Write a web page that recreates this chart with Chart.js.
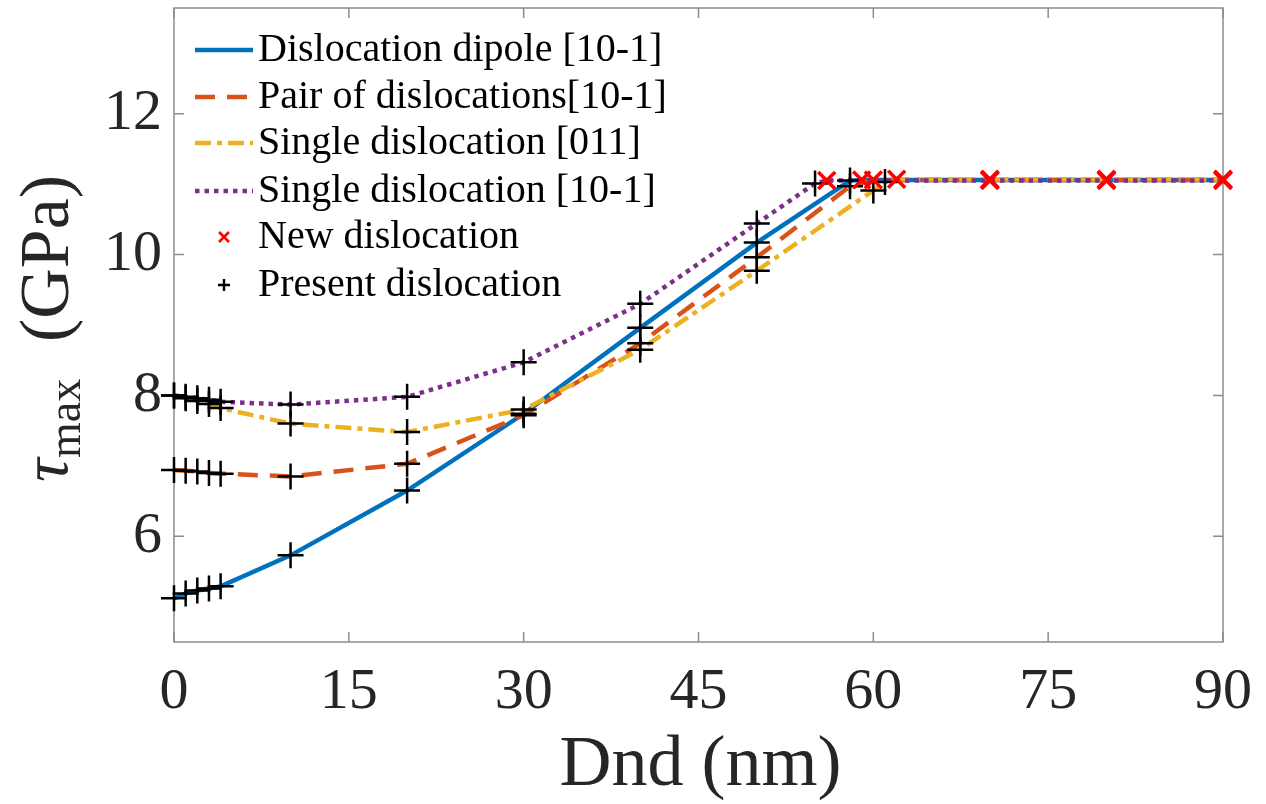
<!DOCTYPE html>
<html>
<head>
<meta charset="utf-8">
<title>tau max vs Dnd</title>
<script src="https://cdn.jsdelivr.net/npm/chart.js@4.4.1/dist/chart.umd.min.js"></script>
<style>
  body { margin: 0; background: #fff; }
</style>
</head>
<body>
<canvas id="chart" width="1266" height="804"></canvas>
<script>
// --- Data ---
const xTicks = [0, 15, 30, 45, 60, 75, 90];
const yTicks = [6, 8, 10, 12];

const dipoleX = [0, 1, 2, 3, 4, 10, 20, 30, 40, 50, 58, 59, 70, 80, 90];
const dipoleY = [5.12, 5.19, 5.23, 5.26, 5.29, 5.73, 6.65, 7.74, 8.96, 10.17, 11.05, 11.06, 11.06, 11.06, 11.06];

const pairX = [0, 1, 2, 3, 4, 10, 20, 30, 40, 50, 58, 60, 70, 80, 90];
const pairY = [6.94, 6.93, 6.92, 6.9, 6.89, 6.85, 7.03, 7.72, 8.74, 9.96, 10.97, 11.06, 11.06, 11.06, 11.06];

const single011X = [0, 1, 2, 3, 4, 10, 20, 30, 40, 50, 60, 61, 62, 70, 80, 90];
const single011Y = [8.0, 7.96, 7.92, 7.88, 7.82, 7.6, 7.48, 7.8, 8.65, 9.77, 10.91, 11.03, 11.07, 11.07, 11.07, 11.07];

const single101X = [0, 1, 2, 3, 4, 10, 20, 30, 40, 50, 55, 56, 70, 80, 90];
const single101Y = [8.0, 7.98, 7.96, 7.94, 7.91, 7.87, 7.98, 8.47, 9.3, 10.44, 11.01, 11.05, 11.05, 11.05, 11.05];

// first distance at which a new dislocation appears, per series
const firstNewX = { dipole: 59, pair: 60, single011: 62, single101: 56 };

const legendLabels = [
  "Dislocation dipole [10-1]",
  "Pair of dislocations[10-1]",
  "Single dislocation [011]",
  "Single dislocation [10-1]",
  "New dislocation",
  "Present dislocation"
];

// --- Styling ---
const FONT = '"Liberation Serif", "Times New Roman", serif';
const series = [
  { key: "dipole", xs: dipoleX, ys: dipoleY, color: "#0072BD", dash: [] },
  { key: "pair", xs: pairX, ys: pairY, color: "#D95319", dash: [20, 12] },
  { key: "single011", xs: single011X, ys: single011Y, color: "#EDB120", dash: [16, 6, 5, 6] },
  { key: "single101", xs: single101X, ys: single101Y, color: "#7E2F8E", dash: [4.5, 5] }
];

const toPoints = (xs, ys) => xs.map((x, i) => ({ x: x, y: ys[i] }));

const datasets = [];
series.forEach((s, i) => {
  datasets.push({
    type: "line",
    data: toPoints(s.xs, s.ys),
    borderColor: s.color,
    borderWidth: 4.5,
    borderDash: s.dash,
    borderCapStyle: "butt",
    pointRadius: 0,
    tension: 0,
    fill: false,
    order: 5 - i
  });
});

const presentPts = [];
const newPts = [];
series.forEach(s => {
  s.xs.forEach((x, i) => {
    if (x < firstNewX[s.key]) presentPts.push({ x: x, y: s.ys[i] });
    else newPts.push({ x: x, y: s.ys[i] });
  });
});

datasets.push({
  type: "scatter",
  data: presentPts,
  pointStyle: "cross",
  pointRadius: 13,
  borderColor: "#000",
  borderWidth: 2.5,
  clip: false,
  order: 1
});
datasets.push({
  type: "scatter",
  data: newPts,
  pointStyle: "crossRot",
  pointRadius: 12,
  borderColor: "#ff0000",
  borderWidth: 3.5,
  clip: false,
  order: 0
});

// --- Box and inward ticks (under the data) ---
const boxPlugin = {
  id: "box",
  beforeDatasetsDraw(chart) {
    const ctx = chart.ctx;
    const a = chart.chartArea;
    const xs = chart.scales.x, ys = chart.scales.y;
    ctx.save();
    ctx.strokeStyle = "#8c8c8c";
    ctx.lineWidth = 1.5;
    ctx.strokeRect(a.left, a.top, a.right - a.left, a.bottom - a.top);
    ctx.beginPath();
    xTicks.forEach(v => {
      const px = xs.getPixelForValue(v);
      ctx.moveTo(px, a.bottom); ctx.lineTo(px, a.bottom - 10);
      ctx.moveTo(px, a.top); ctx.lineTo(px, a.top + 10);
    });
    yTicks.forEach(v => {
      const py = ys.getPixelForValue(v);
      ctx.moveTo(a.left, py); ctx.lineTo(a.left + 10, py);
      ctx.moveTo(a.right, py); ctx.lineTo(a.right - 10, py);
    });
    ctx.stroke();
    ctx.restore();
  }
};

// --- Legend and axis titles ---
const textPlugin = {
  id: "texts",
  afterDraw(chart) {
    const ctx = chart.ctx;
    const a = chart.chartArea;
    ctx.save();

    const rowY = [50, 97, 143, 191, 237, 285];
    const x0 = 195, x1 = 253, tx = 258;
    ctx.font = "40px " + FONT;
    ctx.fillStyle = "#000";
    ctx.textBaseline = "alphabetic";
    ctx.textAlign = "left";
    legendLabels.forEach((lab, i) => {
      const y = rowY[i];
      ctx.save();
      if (i < 4) {
        const s = series[i];
        ctx.strokeStyle = s.color;
        ctx.lineWidth = 4.5;
        ctx.setLineDash(s.dash);
        ctx.beginPath();
        ctx.moveTo(x0, y); ctx.lineTo(x1, y);
        ctx.stroke();
      } else if (i === 4) {
        ctx.strokeStyle = "#ff0000";
        ctx.lineWidth = 2.5;
        ctx.beginPath();
        ctx.moveTo(219, y - 5); ctx.lineTo(229, y + 5);
        ctx.moveTo(229, y - 5); ctx.lineTo(219, y + 5);
        ctx.stroke();
      } else {
        ctx.strokeStyle = "#000";
        ctx.lineWidth = 2.5;
        ctx.beginPath();
        ctx.moveTo(218, y); ctx.lineTo(230, y);
        ctx.moveTo(224, y - 6); ctx.lineTo(224, y + 6);
        ctx.stroke();
      }
      ctx.restore();
      ctx.fillText(lab, tx, y + 11);
    });

    // x title
    ctx.fillStyle = "#262626";
    ctx.font = "72px " + FONT;
    ctx.textAlign = "center";
    ctx.fillText("Dnd (nm)", (a.left + a.right) / 2 + 2, 785);

    // y title: tau_max (GPa), rotated
    ctx.textAlign = "left";
    const rot = (txt, font, bx, by) => {
      ctx.save();
      ctx.font = font;
      ctx.translate(bx, by);
      ctx.rotate(-Math.PI / 2);
      ctx.fillText(txt, 0, 0);
      ctx.restore();
    };
    rot("\u03C4", "italic 66px " + FONT, 67, 482);
    rot("max", "46px " + FONT, 80, 458);
    rot("(GPa)", "70px " + FONT, 68, 342);

    ctx.restore();
  }
};

const ctx = document.getElementById("chart").getContext("2d");
new Chart(ctx, {
  type: "scatter",
  data: { datasets: datasets },
  options: {
    responsive: false,
    animation: false,
    layout: { autoPadding: false, padding: { top: 8, right: 43, left: 0, bottom: 0 } },
    plugins: { legend: { display: false }, tooltip: { enabled: false } },
    scales: {
      x: {
        type: "linear",
        min: 0,
        max: 90,
        afterBuildTicks: s => { s.ticks = xTicks.map(v => ({ value: v })); },
        afterFit: s => { s.height = 162; s.paddingLeft = 0; s.paddingRight = 0; },
        grid: { display: false, drawTicks: false },
        border: { display: false },
        ticks: { font: { family: FONT, size: 58 }, color: "#262626", padding: 16, maxRotation: 0, autoSkip: false }
      },
      y: {
        type: "linear",
        min: 4.5,
        max: 13.5,
        afterBuildTicks: s => { s.ticks = yTicks.map(v => ({ value: v })); },
        afterFit: s => { s.width = 174; s.paddingTop = 0; s.paddingBottom = 0; },
        grid: { display: false, drawTicks: false },
        border: { display: false },
        ticks: { font: { family: FONT, size: 58 }, color: "#262626", padding: 12, autoSkip: false }
      }
    }
  },
  plugins: [boxPlugin, textPlugin]
});
</script>
</body>
</html>
